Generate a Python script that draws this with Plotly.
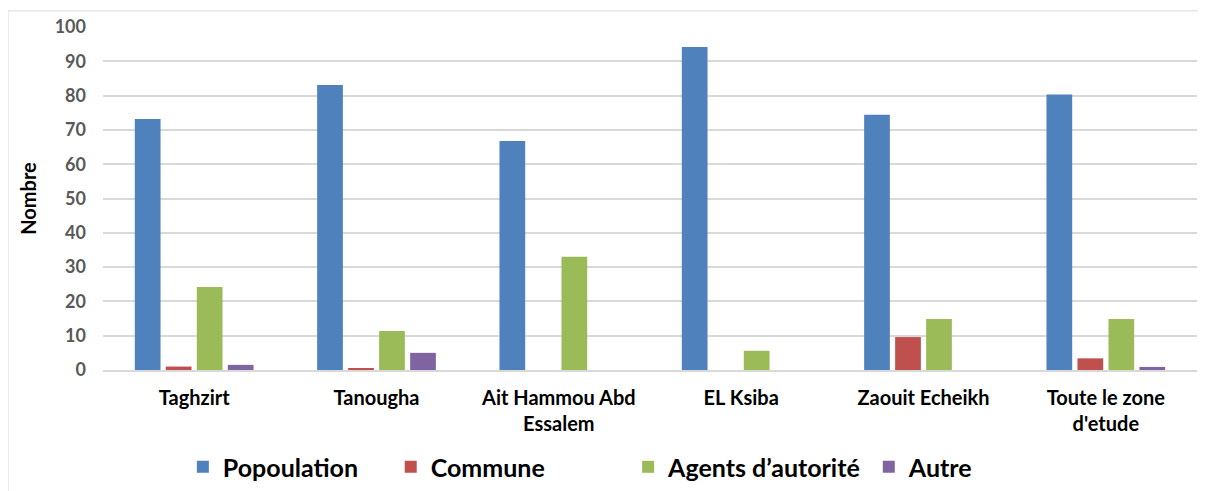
import plotly.graph_objects as go

# Données
zones = ['Taghzirt', 'Tanougha', 'Ait Hammou Abd<br>Essalem', 'EL Ksiba',
         'Zaouit Echeikh', "Toute le zone<br>d'etude"]
population = [73.2, 83.1, 66.8, 94.2, 74.4, 80.3]
commune = [1.0, 0.3, 0, 0, 9.6, 3.4]
agents = [24.2, 11.4, 33.0, 5.6, 14.9, 14.9]
autre = [1.5, 5.0, 0, 0, 0, 0.9]

series = [
    ('Popoulation', population, '#4f81bd'),
    ('Commune', commune, '#c0504d'),
    ("Agents d’autorité", agents, '#9bbb59'),
    ('Autre', autre, '#8064a2'),
]
legend_x = [0.073, 0.263, 0.480, 0.700]

fig = go.Figure()
legends = {}
for i, (name, vals, col) in enumerate(series):
    lg = 'legend' if i == 0 else f'legend{i + 1}'
    fig.add_trace(go.Bar(x=zones, y=vals, name=name, marker_color=col,
                         marker_line_width=0, legend=lg, showlegend=True))
    legends[lg] = dict(orientation='h', x=legend_x[i], xanchor='left',
                       y=-0.283, yanchor='middle', itemwidth=30,
                       bgcolor='rgba(0,0,0,0)',
                       font=dict(size=25, color='black', family='Lato', weight='bold'))

fig.update_layout(
    width=1198, height=483,
    paper_bgcolor='white', plot_bgcolor='white',
    margin=dict(l=95, r=9, t=19, b=121, autoexpand=False),
    showlegend=True,
    barmode='group', bargap=0.32, bargroupgap=0.17,
    font=dict(family='Lato', color='#595959'),
    yaxis=dict(range=[0, 100], dtick=10, showgrid=True, gridcolor='#d9d9d9',
               gridwidth=1.5, zeroline=False, ticklabelstandoff=16,
               tickfont=dict(size=18, color='#595959', family='Lato', weight='bold'),
               title=dict(text='Nombre', standoff=12,
                          font=dict(size=20, color='black', family='Lato', weight='bold'))),
    xaxis=dict(showline=True, linecolor='#d9d9d9', linewidth=1.5,
               ticklabelstandoff=9,
               tickfont=dict(size=20, color='black', family='Lato', weight='bold')),
    # cadre du graphique (bords haut et gauche seulement visibles)
    shapes=[dict(type='rect', xref='paper', yref='paper',
                 x0=-0.0868, x1=1.05, y0=-0.45, y1=1.047,
                 line=dict(color='#d9d9d9', width=1))],
    **legends,
)

fig.write_html('out.html')
